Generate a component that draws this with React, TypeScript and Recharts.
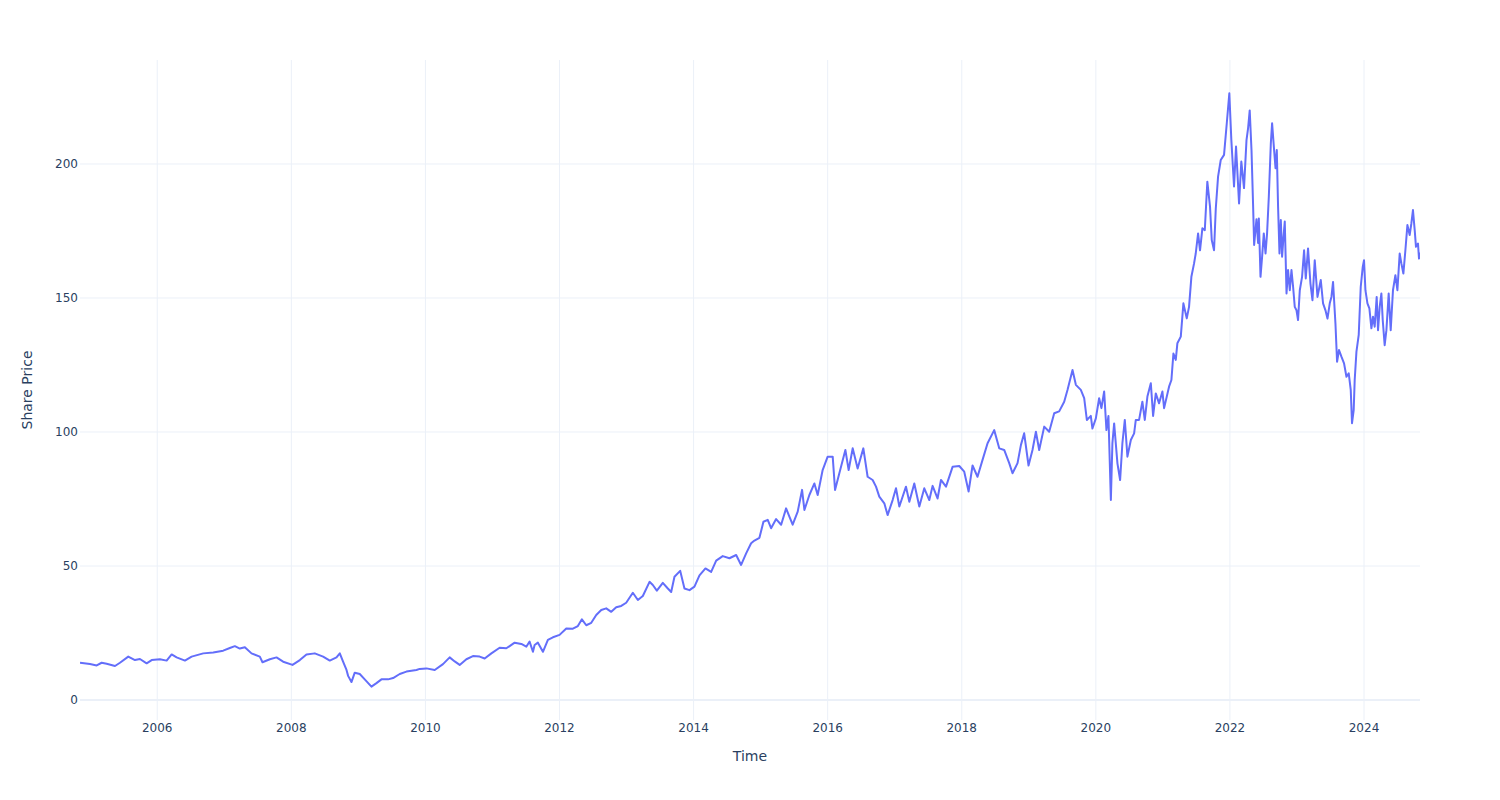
import React from 'react';
import { LineChart, Line, XAxis, YAxis, CartesianGrid, ReferenceLine } from 'recharts';

// Time in decimal years, price in share-price units
const years: number[] = [
  2004.848, 2004.997, 2005.097, 2005.171, 2005.246, 2005.370, 2005.444, 2005.568, 2005.668, 2005.742,
  2005.842, 2005.917, 2006.040, 2006.140, 2006.215, 2006.289, 2006.413, 2006.513, 2006.686, 2006.835,
  2006.984, 2007.083, 2007.158, 2007.232, 2007.307, 2007.406, 2007.530, 2007.570, 2007.680, 2007.779,
  2007.878, 2008.018, 2008.127, 2008.226, 2008.350, 2008.474, 2008.574, 2008.674, 2008.723, 2008.772,
  2008.823, 2008.847, 2008.897, 2008.946, 2009.021, 2009.095, 2009.195, 2009.270, 2009.344, 2009.443,
  2009.518, 2009.617, 2009.717, 2009.866, 2009.915, 2010.015, 2010.139, 2010.262, 2010.362, 2010.437,
  2010.511, 2010.611, 2010.709, 2010.809, 2010.884, 2010.984, 2011.107, 2011.207, 2011.256, 2011.331,
  2011.431, 2011.505, 2011.554, 2011.604, 2011.629, 2011.678, 2011.753, 2011.827, 2011.902, 2012.001,
  2012.101, 2012.200, 2012.274, 2012.334, 2012.399, 2012.474, 2012.548, 2012.623, 2012.697, 2012.772,
  2012.846, 2012.921, 2012.995, 2013.094, 2013.169, 2013.243, 2013.343, 2013.392, 2013.452, 2013.541,
  2013.616, 2013.666, 2013.715, 2013.800, 2013.864, 2013.939, 2014.013, 2014.088, 2014.177, 2014.262,
  2014.337, 2014.435, 2014.535, 2014.635, 2014.709, 2014.784, 2014.858, 2014.908, 2014.982, 2015.042,
  2015.106, 2015.156, 2015.231, 2015.306, 2015.380, 2015.429, 2015.478, 2015.553, 2015.618, 2015.653,
  2015.727, 2015.802, 2015.851, 2015.925, 2016.000, 2016.075, 2016.110, 2016.174, 2016.264, 2016.313,
  2016.373, 2016.447, 2016.532, 2016.596, 2016.671, 2016.721, 2016.770, 2016.845, 2016.894, 2016.969,
  2017.019, 2017.069, 2017.168, 2017.218, 2017.292, 2017.367, 2017.441, 2017.516, 2017.565, 2017.639,
  2017.690, 2017.765, 2017.863, 2017.963, 2018.037, 2018.102, 2018.161, 2018.235, 2018.310, 2018.385,
  2018.484, 2018.559, 2018.633, 2018.708, 2018.757, 2018.832, 2018.882, 2018.931, 2018.996, 2019.055,
  2019.106, 2019.155, 2019.230, 2019.304, 2019.379, 2019.453, 2019.528, 2019.577, 2019.652, 2019.702,
  2019.776, 2019.826, 2019.866, 2019.925, 2019.949, 2020.000, 2020.049, 2020.083, 2020.124, 2020.158,
  2020.188, 2020.224, 2020.247, 2020.273, 2020.322, 2020.362, 2020.396, 2020.432, 2020.471, 2020.522,
  2020.571, 2020.596, 2020.645, 2020.694, 2020.730, 2020.769, 2020.820, 2020.854, 2020.894, 2020.943,
  2020.993, 2021.018, 2021.092, 2021.127, 2021.157, 2021.192, 2021.216, 2021.267, 2021.306, 2021.356,
  2021.390, 2021.425, 2021.465, 2021.490, 2021.525, 2021.554, 2021.589, 2021.625, 2021.663, 2021.703,
  2021.729, 2021.763, 2021.789, 2021.823, 2021.863, 2021.912, 2021.953, 2021.991, 2022.021, 2022.061,
  2022.091, 2022.136, 2022.170, 2022.210, 2022.247, 2022.271, 2022.295, 2022.322, 2022.346, 2022.361,
  2022.396, 2022.420, 2022.431, 2022.456, 2022.480, 2022.505, 2022.531, 2022.554, 2022.580, 2022.610,
  2022.629, 2022.659, 2022.680, 2022.699, 2022.718, 2022.739, 2022.759, 2022.778, 2022.799, 2022.818,
  2022.844, 2022.867, 2022.893, 2022.918, 2022.942, 2022.967, 2022.993, 2023.016, 2023.042, 2023.076,
  2023.106, 2023.131, 2023.165, 2023.201, 2023.231, 2023.265, 2023.306, 2023.355, 2023.389, 2023.425,
  2023.455, 2023.489, 2023.514, 2023.538, 2023.574, 2023.598, 2023.627, 2023.663, 2023.702, 2023.738,
  2023.772, 2023.802, 2023.821, 2023.846, 2023.861, 2023.887, 2023.921, 2023.951, 2023.981, 2024.000,
  2024.021, 2024.051, 2024.080, 2024.110, 2024.134, 2024.159, 2024.189, 2024.209, 2024.234, 2024.259,
  2024.279, 2024.308, 2024.334, 2024.368, 2024.398, 2024.432, 2024.468, 2024.498, 2024.532, 2024.557,
  2024.587, 2024.617, 2024.647, 2024.681, 2024.706, 2024.730, 2024.756, 2024.775, 2024.805, 2024.820,
  2024.835,
];

const prices: number[] = [
  13.9, 13.4, 12.9, 13.9, 13.5, 12.7, 13.9, 16.2, 14.9, 15.3,
  13.7, 14.9, 15.2, 14.7, 17.0, 15.9, 14.7, 16.2, 17.4, 17.7,
  18.4, 19.4, 20.1, 19.2, 19.7, 17.4, 16.2, 14.1, 15.2, 15.9,
  14.3, 13.1, 14.9, 17.0, 17.4, 16.2, 14.7, 15.9, 17.4, 14.3,
  11.2, 9.0, 6.7, 10.2, 9.7, 7.7, 5.0, 6.3, 7.7, 7.7,
  8.2, 9.7, 10.6, 11.2, 11.6, 11.8, 11.2, 13.4, 15.9, 14.4,
  13.1, 15.2, 16.4, 16.2, 15.5, 17.4, 19.5, 19.3, 20.1, 21.4,
  20.9, 19.9, 21.8, 18.0, 20.5, 21.4, 18.0, 22.4, 23.4, 24.3,
  26.7, 26.6, 27.6, 30.1, 27.9, 28.8, 31.7, 33.6, 34.2, 32.9,
  34.6, 35.1, 36.3, 40.0, 37.3, 38.8, 44.1, 42.9, 40.8, 43.7,
  41.6, 40.3, 46.0, 48.2, 41.6, 41.0, 42.3, 46.5, 49.1, 47.8,
  52.0, 53.7, 52.9, 54.1, 50.4, 54.7, 58.5, 59.5, 60.5, 66.5,
  67.2, 64.1, 67.5, 65.4, 71.5, 68.4, 65.4, 70.3, 78.4, 70.9,
  76.5, 80.8, 76.5, 85.8, 90.8, 90.8, 78.4, 84.6, 93.3, 85.8,
  93.9, 86.4, 93.9, 83.3, 82.1, 79.6, 75.9, 73.4, 69.0, 74.6,
  79.0, 72.2, 79.6, 74.0, 80.8, 72.2, 79.0, 74.6, 79.9, 75.2,
  82.1, 79.6, 87.0, 87.3, 85.2, 77.8, 87.5, 83.3, 89.6, 95.8,
  100.7, 93.9, 93.3, 88.4, 84.6, 88.4, 95.1, 99.5, 87.5, 93.3,
  100.1, 93.3, 102.0, 100.1, 107.0, 107.7, 111.3, 115.7, 123.1, 117.6,
  115.7, 112.6, 104.5, 106.0, 101.3, 105.1, 112.6, 108.9, 115.1, 100.7,
  106.0, 74.6, 95.8, 103.2, 88.3, 82.1, 95.8, 104.5, 90.8, 97.0,
  99.5, 104.5, 104.5, 111.3, 104.5, 113.2, 118.2, 106.0, 114.4, 110.7,
  115.1, 108.9, 116.9, 119.4, 129.3, 126.9, 133.1, 135.6, 148.0, 142.4,
  146.7, 157.9, 162.9, 166.6, 174.1, 167.8, 176.0, 175.3, 193.4, 184.1,
  171.6, 167.8, 183.4, 195.3, 201.5, 203.4, 215.2, 226.4, 209.0, 191.6,
  206.5, 185.3, 200.9, 191.0, 208.9, 213.4, 220.0, 205.0, 184.1, 169.8,
  179.4, 170.5, 179.7, 157.9, 165.4, 174.1, 166.6, 174.1, 187.8, 207.7,
  215.2, 205.2, 198.4, 205.2, 184.1, 166.6, 179.1, 165.4, 172.8, 178.5,
  151.7, 160.4, 152.9, 160.4, 154.2, 146.7, 145.4, 141.8, 152.9, 157.9,
  167.8, 157.3, 168.5, 155.4, 149.2, 164.1, 150.4, 156.7, 148.0, 145.4,
  142.3, 148.0, 150.4, 156.0, 140.4, 126.2, 130.6, 128.1, 125.6, 120.6,
  121.9, 115.7, 103.3, 108.2, 119.4, 130.0, 136.2, 154.2, 161.6, 164.1,
  152.9, 148.0, 146.1, 138.7, 143.0, 139.3, 150.4, 138.0, 146.7, 151.7,
  141.8, 132.4, 138.0, 151.7, 138.0, 152.9, 158.5, 152.9, 166.6, 162.9,
  159.1, 167.8, 177.2, 173.5, 177.8, 182.8, 175.3, 169.1, 170.3, 164.7,
  167.0,
];

const xTicks: number[] = [2006, 2008, 2010, 2012, 2014, 2016, 2018, 2020, 2022, 2024];
const yTicks: number[] = [0, 50, 100, 150, 200];

const data = years.map((t, i) => ({ t, price: prices[i] }));

const FONT = '"DejaVu Sans", Verdana, sans-serif';
const TEXT = '#2a3f5f';
const GRID = '#EBF0F8';

export default function App() {
  return (
    <div style={{ position: 'absolute', left: 0, top: 0, width: 1500, height: 800, background: '#fff' }}>
      <LineChart width={1500} height={800} data={data} margin={{ top: 60, right: 80, bottom: 0, left: 0 }}>
        <XAxis
          type="number"
          dataKey="t"
          domain={[2004.848, 2024.835]}
          allowDataOverflow
          ticks={xTicks}
          tickFormatter={(v: number) => String(v)}
          axisLine={false}
          tickLine={false}
          tickSize={0}
          tickMargin={3}
          height={80}
          tick={{ fill: TEXT, fontSize: 12, fontFamily: FONT }}
          label={{
            content: (props: any) => {
              const vb = props.viewBox || { x: 80, y: 720, width: 1340, height: 80 };
              return (
                <text
                  x={vb.x + vb.width / 2}
                  y={vb.y + 36}
                  textAnchor="middle"
                  dominantBaseline="central"
                  fill={TEXT}
                  fontSize={14}
                  fontFamily={FONT}
                >
                  Time
                </text>
              );
            },
          }}
        />
        <YAxis
          type="number"
          domain={[-7.46, 238.8]}
          allowDataOverflow
          ticks={yTicks}
          axisLine={false}
          tickLine={false}
          tickSize={0}
          tickMargin={2}
          width={80}
          tick={{ fill: TEXT, fontSize: 12, fontFamily: FONT }}
          label={{
            content: (props: any) => {
              const vb = props.viewBox || { x: 0, y: 60, width: 80, height: 660 };
              const cx = vb.x + 27;
              const cy = vb.y + vb.height / 2;
              return (
                <text
                  x={cx}
                  y={cy}
                  transform={`rotate(-90 ${cx} ${cy})`}
                  textAnchor="middle"
                  dominantBaseline="central"
                  fill={TEXT}
                  fontSize={14}
                  fontFamily={FONT}
                >
                  Share Price
                </text>
              );
            },
          }}
        />
        {xTicks.map((t) => (
          <ReferenceLine key={`gx${t}`} x={t} stroke={GRID} strokeWidth={1} />
        ))}
        {yTicks.filter((t) => t !== 0).map((t) => (
          <ReferenceLine key={`gy${t}`} y={t} stroke={GRID} strokeWidth={1} />
        ))}
        <ReferenceLine y={0} stroke={GRID} strokeWidth={2} />
        <Line
          type="linear"
          dataKey="price"
          stroke="#636efa"
          strokeWidth={2}
          dot={false}
          activeDot={false}
          isAnimationActive={false}
          strokeLinejoin="round"
        />
      </LineChart>
    </div>
  );
}
